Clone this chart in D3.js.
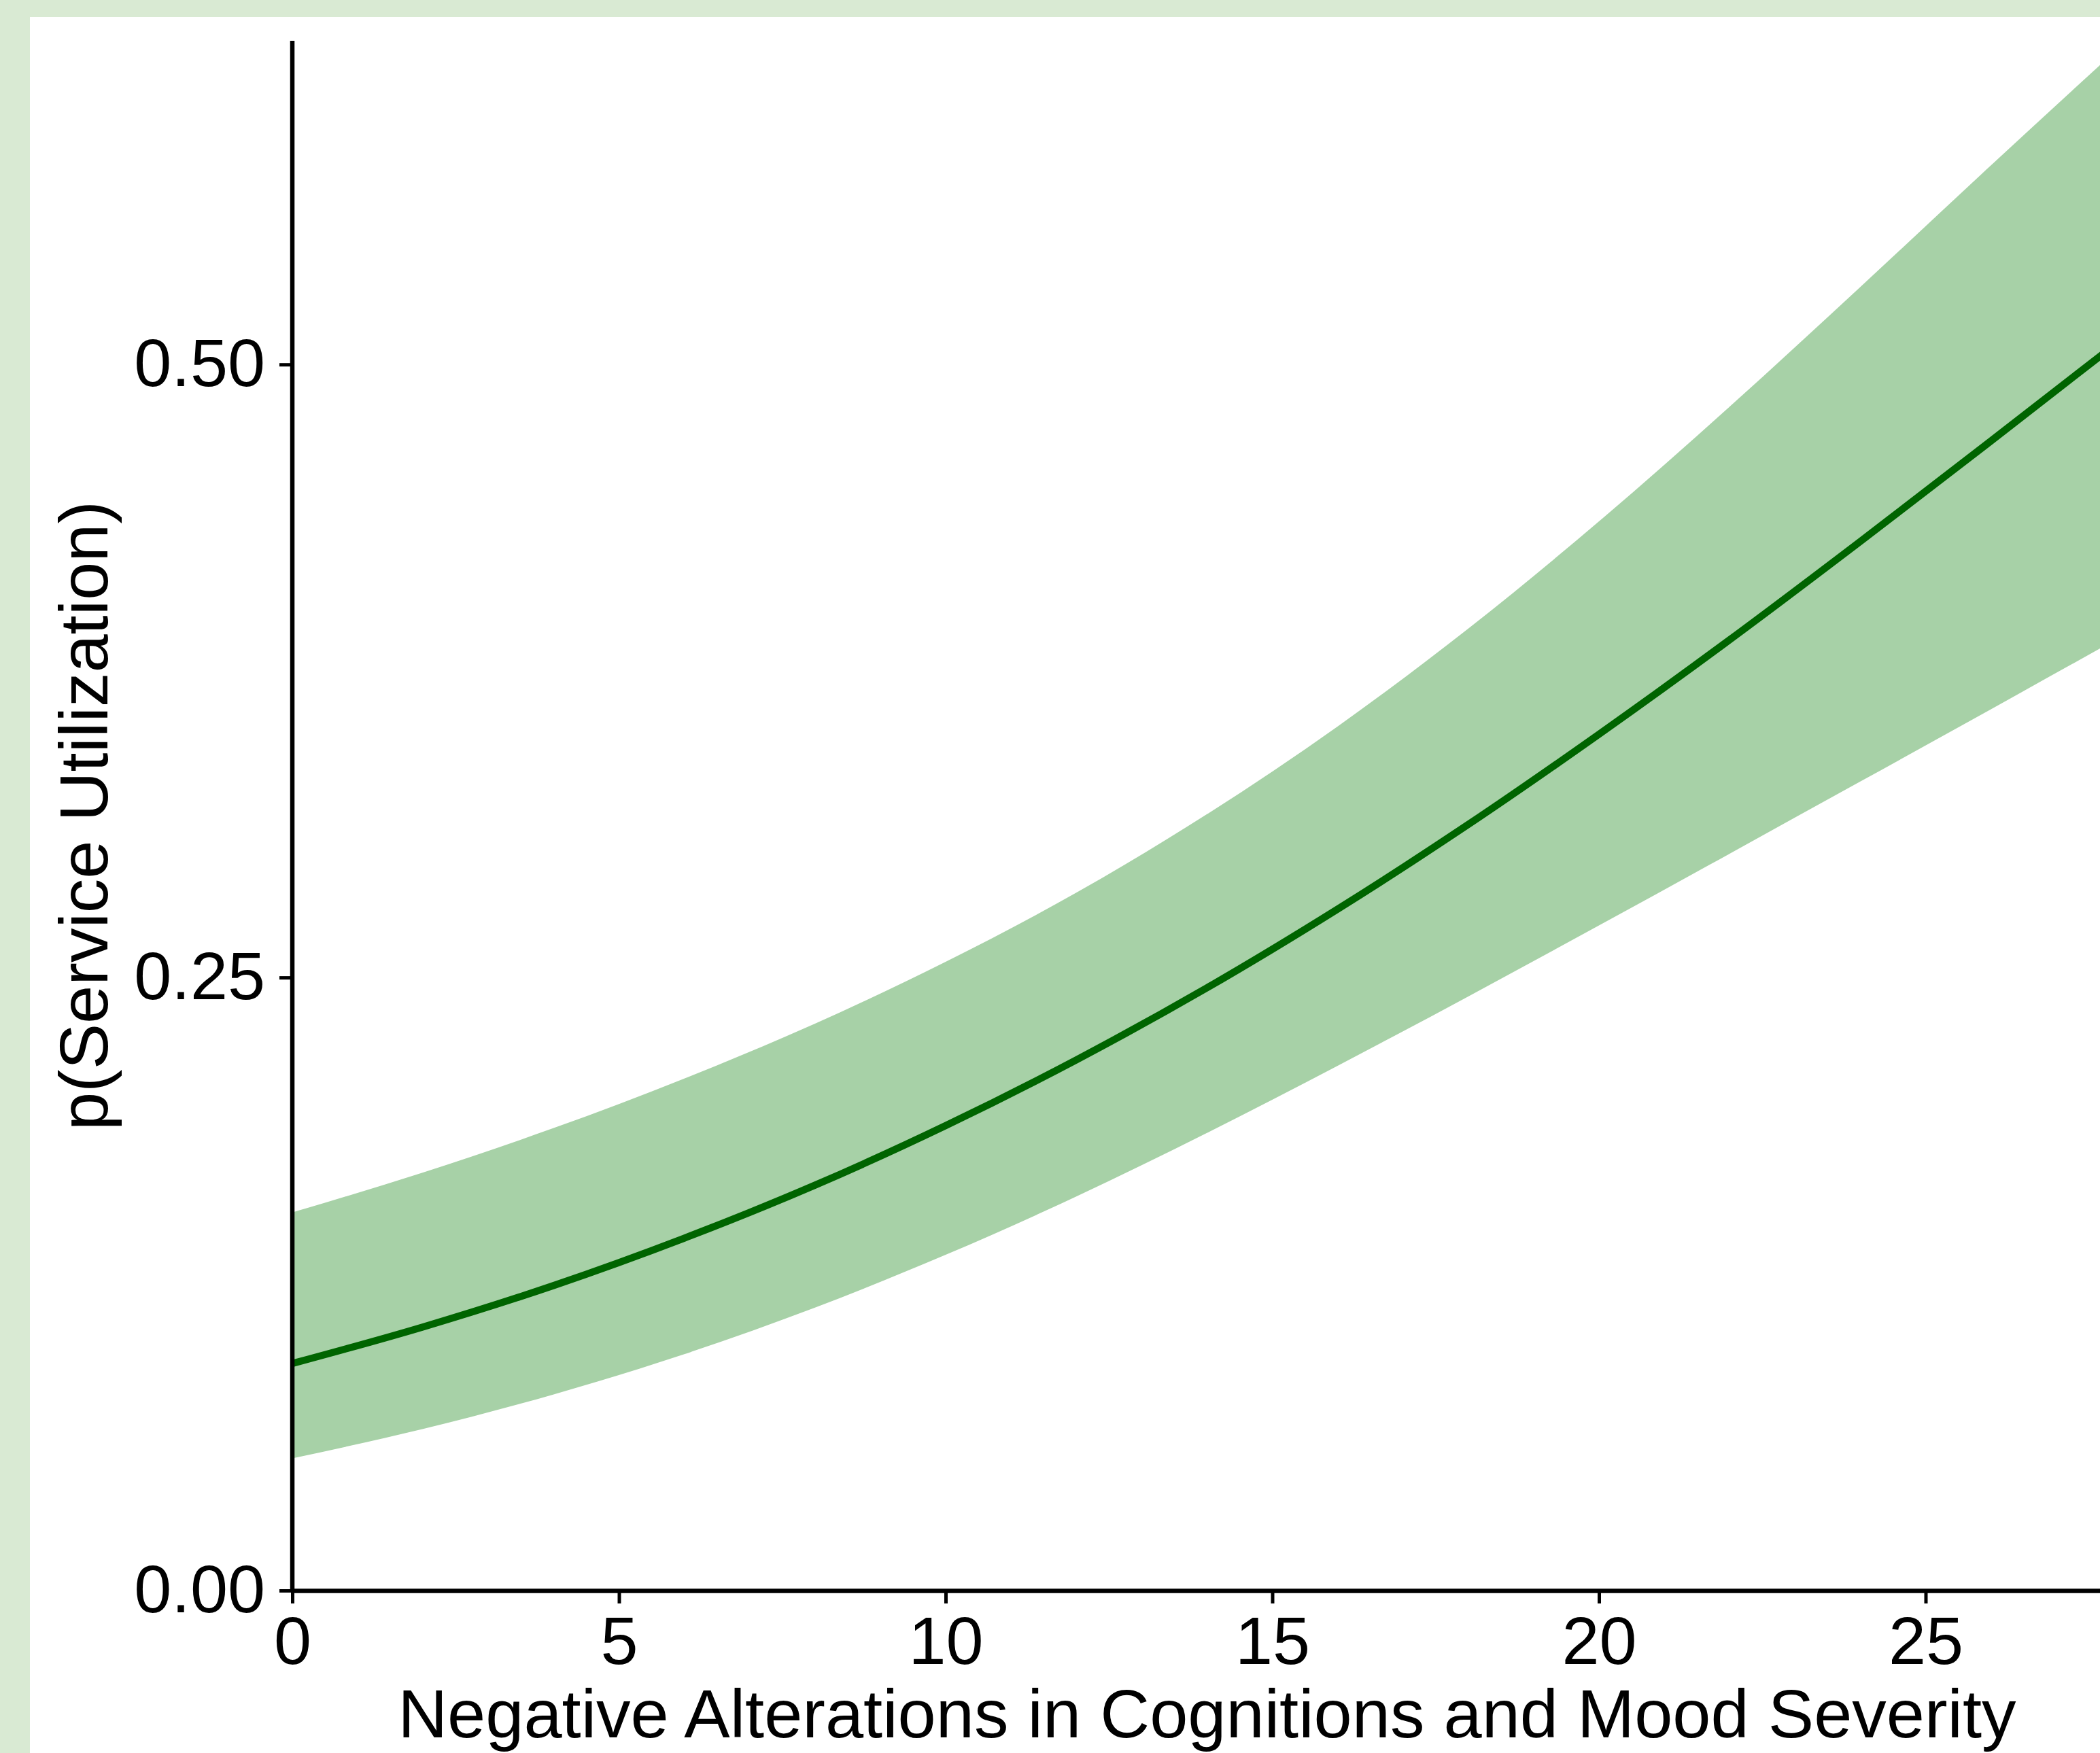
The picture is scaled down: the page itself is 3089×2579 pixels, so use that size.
<!DOCTYPE html>
<html>
<head>
<meta charset="utf-8">
<script src="https://cdn.jsdelivr.net/npm/d3@7"></script>
<style>
  html, body { margin: 0; padding: 0; background: #d9ead3; }
  svg { display: block; }
  text { font-family: "Liberation Sans", Arial, Helvetica, sans-serif; fill: #000; }
</style>
</head>
<body>
<svg id="chart"></svg>
<script>
// severity score (x) and predicted probability with its confidence band
var severity = [0, 2, 4, 6, 8, 10, 12, 14, 16, 18, 20, 22, 24, 26, 28];
var pFit     = [0.0926, 0.1075, 0.1244, 0.1437, 0.1653, 0.1896, 0.2164, 0.2458, 0.2779, 0.3124, 0.3492, 0.3877, 0.4278, 0.4688, 0.5102];
var pLower   = [0.0539, 0.0659, 0.0800, 0.0964, 0.1154, 0.1369, 0.1607, 0.1866, 0.2140, 0.2423, 0.2712, 0.3005, 0.3299, 0.3594, 0.3891];
var pUpper   = [0.1542, 0.1705, 0.1886, 0.2088, 0.2312, 0.2564, 0.2846, 0.3166, 0.3524, 0.3923, 0.4360, 0.4828, 0.5316, 0.5812, 0.6302];

var xTicks = [0, 5, 10, 15, 20, 25];
var yTicks = [0, 0.25, 0.50];
var xTitle = "Negative Alterations in Cognitions and Mood Severity";
var yTitle = "p(Service Utilization)";

(function(root) {
    var W = 3089, H = 2579;
    var svg, x, y;

    function draw() {
        svg = d3.select("#chart").attr("width", W).attr("height", H);

        // panel (white card on the green page)
        svg.append("rect")
            .attr("x", 44).attr("y", 25)
            .attr("width", W - 44).attr("height", H - 25)
            .attr("fill", "#ffffff");

        x = d3.scaleLinear().domain([0, 28]).range([430, 430 + 28 * 96.1]);
        y = d3.scaleLinear().domain([0, 0.632]).range([2340, 60]);

        var rows = severity.map(function(d, i) {
            return { x: d, fit: pFit[i], lo: pLower[i], hi: pUpper[i] };
        });

        drawBand(rows);
        drawAxes();
        drawTitles();
    }

    function drawBand(rows) {
        var band = d3.area()
            .x(function(d) { return x(d.x); })
            .y0(function(d) { return y(d.lo); })
            .y1(function(d) { return y(d.hi); })
            .curve(d3.curveMonotoneX);

        svg.append("path")
            .datum(rows)
            .attr("d", band)
            .attr("fill", "#a7d1a7");

        var line = d3.line()
            .x(function(d) { return x(d.x); })
            .y(function(d) { return y(d.fit); })
            .curve(d3.curveMonotoneX);

        svg.append("path")
            .datum(rows)
            .attr("d", line)
            .attr("fill", "none")
            .attr("stroke", "#006400")
            .attr("stroke-width", 10.5);
    }

    function drawAxes() {
        var xAxis = svg.append("g")
            .attr("transform", "translate(0," + y(0) + ")")
            .call(d3.axisBottom(x)
                .tickValues(xTicks)
                .tickSizeInner(19)
                .tickSizeOuter(0)
                .tickPadding(19)
                .tickFormat(d3.format("d")));

        var yAxis = svg.append("g")
            .attr("transform", "translate(" + x(0) + ",0)")
            .call(d3.axisLeft(y)
                .tickValues(yTicks)
                .tickSizeInner(19)
                .tickSizeOuter(0)
                .tickPadding(21)
                .tickFormat(d3.format(".2f")));

        [xAxis, yAxis].forEach(function(g) {
            g.select(".domain").attr("stroke", "#000").attr("stroke-width", 6.5);
            g.selectAll(".tick line").attr("stroke", "#000").attr("stroke-width", 5);
            g.selectAll(".tick text")
                .attr("fill", "#000")
                .style("font-size", "99px")
                .style("font-family", "'Liberation Sans', Arial, sans-serif");
        });
        // y axis line runs a little past the x axis like ggplot's
        yAxis.select(".domain").attr("d", "M0," + y.range()[1] + "V" + (y(0) + 3));
    }

    function drawTitles() {
        var xr = x.range();
        svg.append("text")
            .attr("x", (xr[0] + xr[1]) / 2)
            .attr("y", 2556)
            .attr("text-anchor", "middle")
            .style("font-size", "101px")
            .text(xTitle);

        var yr = y.range();
        svg.append("text")
            .attr("transform", "translate(158," + ((yr[0] + yr[1]) / 2) + ") rotate(-90)")
            .attr("text-anchor", "middle")
            .style("font-size", "101px")
            .text(yTitle);
    }

    draw();
})(window);
</script>
</body>
</html>
